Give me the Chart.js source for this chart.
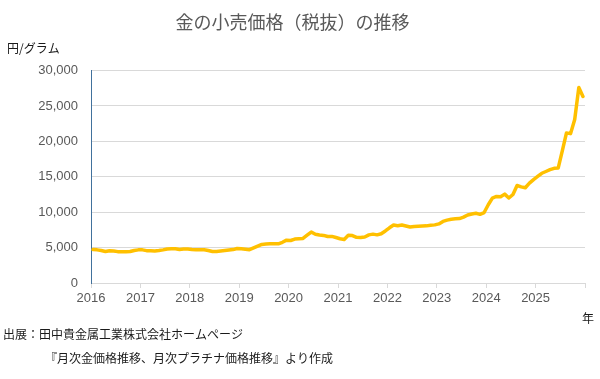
<!DOCTYPE html>
<html lang="ja">
<head>
<meta charset="utf-8">
<script src="https://cdn.jsdelivr.net/npm/chart.js@4/dist/chart.umd.min.js"></script>
<style>
  html, body { margin: 0; padding: 0; background: #ffffff; }
  #wrap { width: 600px; height: 379px; }
</style>
</head>
<body>
<div id="wrap"><canvas id="c" width="600" height="379"></canvas></div>
<script>
// Monthly gold retail price (tax excluded), yen per gram, Jan..Dec of each year
const price2016 = [4720, 4680, 4580, 4450, 4560, 4530, 4430, 4400, 4400, 4450, 4600, 4680];
const price2017 = [4680, 4570, 4550, 4530, 4580, 4680, 4800, 4830, 4830, 4740, 4800, 4800];
const price2018 = [4740, 4700, 4700, 4690, 4580, 4450, 4450, 4520, 4580, 4650, 4720, 4880];
const price2019 = [4850, 4780, 4700, 4950, 5200, 5450, 5500, 5540, 5530, 5530, 5750, 6050];
const price2020 = [6000, 6200, 6250, 6300, 6750, 7200, 6880, 6780, 6720, 6570, 6580, 6420];
const price2021 = [6250, 6150, 6750, 6700, 6450, 6430, 6500, 6800, 6900, 6800, 6950, 7350];
const price2022 = [7800, 8200, 8100, 8200, 8050, 7900, 7980, 8020, 8040, 8070, 8150, 8210];
const price2023 = [8350, 8700, 8880, 9000, 9060, 9100, 9300, 9600, 9750, 9850, 9700, 9950];
const price2024 = [11050, 12000, 12220, 12170, 12550, 12000, 12500, 13770, 13580, 13450, 14100, 14600];
const price2025 = [15050, 15500, 15750, 16000, 16200, 16250, 18700, 21200, 21100, 23100, 27600, 26350];

const yearLabels = ['2016', '2017', '2018', '2019', '2020', '2021', '2022', '2023', '2024', '2025', ''];
const yTicks = [0, 5000, 10000, 15000, 20000, 25000, 30000];

const titleText = '金の小売価格（税抜）の推移';
const yUnit = '円/グラム';
const xUnit = '年';
const sourceLine1 = '出展：田中貴金属工業株式会社ホームページ';
const sourceLine2 = '『月次金価格推移、月次プラチナ価格推移』より作成';

const allPrices = [].concat(price2016, price2017, price2018, price2019, price2020,
                            price2021, price2022, price2023, price2024, price2025);
const points = allPrices.map((v, i) => ({ x: i + 0.5, y: v }));

const JP = '"Noto Sans CJK JP", "Noto Sans", sans-serif';
const NUM = '"Liberation Sans", Arial, sans-serif';

const extraText = {
  id: 'extraText',
  afterDraw(chart) {
    const ctx = chart.ctx;
    ctx.save();
    ctx.fillStyle = '#1a1a1a';
    ctx.textBaseline = 'middle';
    ctx.font = '12px ' + JP;
    ctx.textAlign = 'left';
    ctx.fillText(yUnit, 7, 48);
    ctx.textAlign = 'center';
    ctx.fillText(xUnit, 588, 318);
    ctx.textAlign = 'left';
    ctx.fillText(sourceLine1, 3, 334);
    ctx.fillText(sourceLine2, 45, 358);
    ctx.restore();
  }
};

Chart.defaults.font.family = JP;

new Chart(document.getElementById('c'), {
  type: 'line',
  data: {
    datasets: [{
      data: points,
      borderColor: '#FFC000',
      borderWidth: 3.5,
      pointRadius: 0,
      tension: 0,
      borderJoinStyle: 'round',
      borderCapStyle: 'round',
      fill: false
    }]
  },
  options: {
    responsive: false,
    animation: false,
    layout: { padding: { left: 0, right: 15, top: 0, bottom: 0 } },
    plugins: {
      legend: { display: false },
      tooltip: { enabled: false },
      title: {
        display: true,
        text: titleText,
        color: '#595959',
        font: { family: JP, size: 18, weight: 'normal' },
        padding: { top: 11, bottom: 38 }
      }
    },
    scales: {
      x: {
        type: 'linear',
        min: 0,
        max: 120,
        afterBuildTicks(scale) {
          scale.ticks = yearLabels.map((_, i) => ({ value: i * 12 }));
        },
        afterFit(scale) { scale.height = 96; },
        ticks: {
          color: '#595959',
          font: { family: NUM, size: 13 },
          padding: 3,
          maxRotation: 0,
          autoSkip: false,
          callback: (v) => yearLabels[Math.round(v / 12)]
        },
        grid: { drawOnChartArea: false, drawTicks: true, tickLength: 5, color: '#d9d9d9' },
        border: { color: '#d9d9d9', width: 1 }
      },
      y: {
        min: 0,
        max: 30000,
        afterBuildTicks(scale) {
          scale.ticks = yTicks.map(v => ({ value: v }));
        },
        afterFit(scale) { scale.width = 91; },
        ticks: {
          color: '#595959',
          font: { family: NUM, size: 13 },
          padding: 13,
          callback: (v) => v.toLocaleString('en-US')
        },
        grid: { drawTicks: false, color: '#d9d9d9', lineWidth: 1 },
        border: { color: '#41719c', width: 1 }
      }
    }
  },
  plugins: [extraText]
});
</script>
</body>
</html>
